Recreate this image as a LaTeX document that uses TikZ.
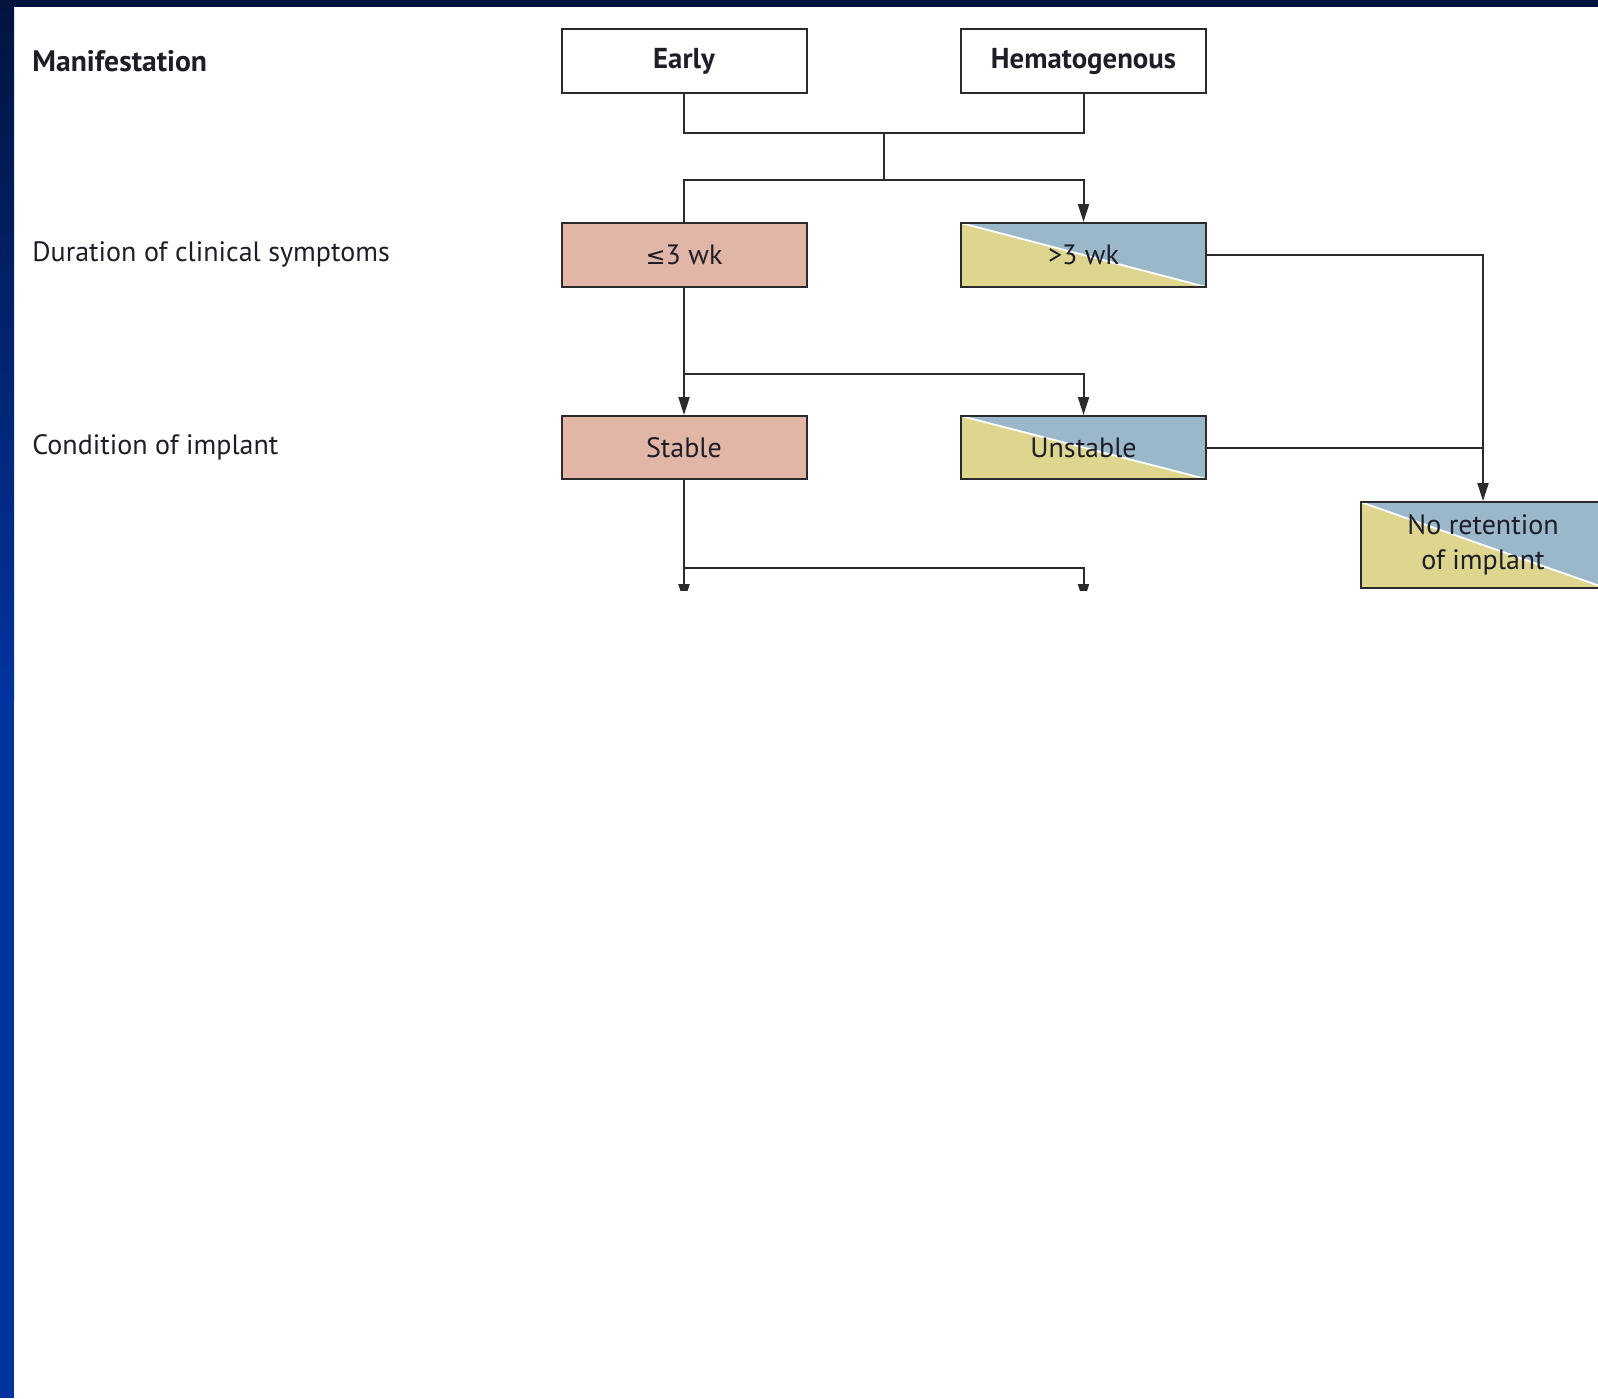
\documentclass[tikz,border=0pt]{standalone}
\usepackage{fontspec}
\setmainfont{PT Sans}
\newfontfamily\symfont{DejaVu Sans}
\usetikzlibrary{arrows.meta}
\definecolor{pinkf}{HTML}{E2B6A6}
\definecolor{yellowf}{HTML}{DED68E}
\definecolor{bluef}{HTML}{9BB8CA}
\definecolor{linec}{HTML}{2B2B2B}
\definecolor{textc}{HTML}{1E1E28}
\definecolor{navy}{HTML}{00143F}
\definecolor{bandblue}{HTML}{0033A0}
\begin{document}
\begin{tikzpicture}[x=0.5pt,y=-0.5pt,
  box/.style={draw=linec, line width=1pt, minimum width=122.5pt, minimum height=32pt,
    inner sep=0pt, text=textc, font=\fontsize{14}{17.5}\selectfont},
  plainbox/.style={box, fill=white, font=\fontsize{14.4}{17.5}\selectfont\bfseries},
  pinkbox/.style={box, fill=pinkf},
  splitbox/.style={box, path picture={
      \fill[yellowf] (path picture bounding box.north west) -- (path picture bounding box.south west) -- (path picture bounding box.south east) -- cycle;
      \fill[bluef] (path picture bounding box.north west) -- (path picture bounding box.north east) -- (path picture bounding box.south east) -- cycle;
      \draw[white, line width=0.9pt] (path picture bounding box.north west) -- (path picture bounding box.south east);}},
  rowlabel/.style={anchor=west, inner sep=0pt, text=textc, font=\fontsize{14}{16}\selectfont},
  conn/.style={draw=linec, line width=1pt},
  arr/.style={conn, -{Triangle[length=9pt,width=5.5pt]}}
]
\useasboundingbox (0,0) rectangle (1598,1398);
\fill[white] (0,0) rectangle (1598,1398);
% frame
\shade[top color=navy, bottom color=bandblue] (0,0) rectangle (14,700);
\fill[bandblue] (0,699) rectangle (14,1398);
\fill[navy] (0,0) rectangle (1598,7);

% row labels
\node[rowlabel, font=\fontsize{14.8}{16}\selectfont\bfseries] (lman) at (32,61) {Manifestation};
\node[rowlabel] (ldur) at (32,254) {Duration of clinical symptoms};
\node[rowlabel] (lcond) at (32,447) {Condition of implant};

% boxes
\node[plainbox] (early) at (684,61) {Early};
\node[plainbox] (hem) at (1083.5,61) {Hematogenous};
\node[pinkbox] (short) at (684,255) {{\symfont\fontsize{12}{14}\selectfont ≤}3 wk};
\node[splitbox] (long) at (1083.5,255) {>3 wk};
\node[pinkbox, minimum height=31.5pt] (stable) at (684,447.5) {Stable};
\node[splitbox, minimum height=31.5pt] (unst) at (1083.5,447.5) {Unstable};
\node[splitbox, minimum height=43pt, align=center] (noret) at (1483,545) {No retention\\of implant};

% junction points
\coordinate (j1) at (884,133);
\coordinate (j2) at (884,180);
\coordinate (j3) at (684,374);
\coordinate (j4) at (684,568);
\coordinate (endL) at (684,602);
\coordinate (endR) at (1083.5,602);

% connectors
\draw[conn] (early.south) |- (j1) -| (hem.south);
\draw[conn] (j1) -- (j2);
\draw[conn] (j2) -| (short.north);
\draw[arr] (j2) -| (long.north);
\draw[arr] (long.east) -| (noret.north);
\draw[conn] (unst.east) -- (unst.east -| noret.north);
\draw[arr] (short.south) -- (stable.north);
\draw[arr] (j3) -| (unst.north);
\begin{scope}
  \clip (0,0) rectangle (1598,590);
  \draw[conn] (stable.south) -- (j4);
  \draw[arr] (j4) -- (endL);
  \draw[arr] (j4) -| (endR);
\end{scope}
\end{tikzpicture}
\end{document}
